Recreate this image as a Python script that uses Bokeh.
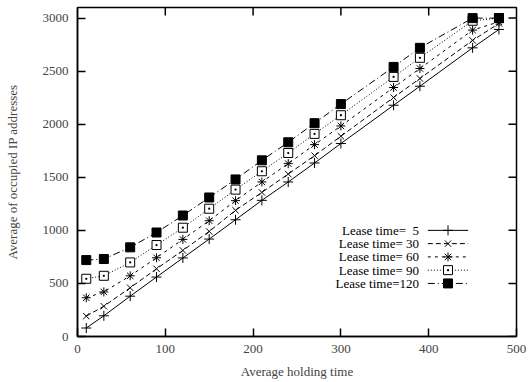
import math
from bokeh.plotting import figure
from bokeh.models import FixedTicker, Label
from bokeh.embed import file_html
from bokeh.resources import INLINE

# Average holding time (x) and average occupied IP addresses per lease time
holding_time = [10, 30, 60, 90, 120, 150, 180, 210, 240, 270, 300, 360, 390, 450, 480]
lease_5 = [80, 195, 380, 560, 740, 918, 1100, 1283, 1456, 1635, 1818, 2179, 2358, 2720, 2893]
lease_30 = [192, 285, 459, 638, 811, 990, 1189, 1358, 1531, 1704, 1887, 2252, 2431, 2790, 2950]
lease_60 = [365, 420, 572, 742, 915, 1091, 1280, 1456, 1629, 1808, 1984, 2346, 2525, 2887, 2965]
lease_90 = [544, 572, 698, 862, 1025, 1204, 1384, 1557, 1729, 1909, 2085, 2446, 2626, 2975, 3000]
lease_120 = [720, 730, 840, 980, 1140, 1310, 1480, 1660, 1830, 2010, 2190, 2540, 2720, 3000, 3000]

NBSP = "\u00a0"
series_labels = ["Lease time=" + NBSP * 2 + "5", "Lease time=" + NBSP + "30",
                 "Lease time=" + NBSP + "60", "Lease time=" + NBSP + "90", "Lease time=120"]
x_ticks = [0, 100, 200, 300, 400, 500]
y_ticks = [0, 500, 1000, 1500, 2000, 2500, 3000]
X_MAX = 500
Y_MAX = 3100

FONT = "Liberation Serif"
FS = "13px"

p = figure(width=528, height=382, x_range=(0, X_MAX), y_range=(0, Y_MAX),
           output_backend="svg", toolbar_location=None,
           min_border_left=77, min_border_right=12, min_border_top=7, min_border_bottom=46,
           x_axis_label="Average holding time", y_axis_label="Average of occupied IP addresses")
p.grid.visible = False
p.outline_line_color = "black"
p.outline_line_width = 1.5
p.background_fill_color = "white"
p.border_fill_color = "white"

for ax, ticks in ((p.xaxis[0], x_ticks), (p.yaxis[0], y_ticks)):
    ax.ticker = FixedTicker(ticks=ticks)
    ax.major_tick_in = 8
    ax.major_tick_out = 0
    ax.major_tick_line_width = 1.5
    ax.minor_tick_line_color = None
    ax.axis_line_width = 1.5
    ax.major_label_text_font = FONT
    ax.major_label_text_font_size = FS
    ax.axis_label_text_font = FONT
    ax.axis_label_text_font_size = FS
    ax.axis_label_text_font_style = "normal"
p.xaxis[0].major_label_standoff = 8
p.xaxis[0].axis_label_standoff = 8
p.yaxis[0].major_label_standoff = 9
p.yaxis[0].axis_label_standoff = 20

# mirrored tick marks on the top and right borders (half of each dash is clipped by the frame)
p.scatter(x_ticks[1:-1], [Y_MAX] * (len(x_ticks) - 2), marker="dash", angle=math.pi / 2,
          size=16, line_color="black", line_width=1.5)
p.scatter([X_MAX] * len(y_ticks), y_ticks, marker="dash", size=16,
          line_color="black", line_width=1.5)

styles = [
    dict(data=lease_5, dash="solid", marker="cross", size=10, fill=None),
    dict(data=lease_30, dash="5 3", marker="x", size=9, fill=None),
    dict(data=lease_60, dash="3 4", marker="asterisk", size=9, fill=None),
    dict(data=lease_90, dash="1 2", marker="square_dot", size=9, fill="white"),
    dict(data=lease_120, dash="7 3 1 3", marker="square", size=9, fill="black"),
]

# legend layout (data units): text right edge, sample line span, row positions
leg_text_x = 389
leg_line_x = [399, 445]
leg_mark_x = 422
leg_rows = [1000, 875, 750, 625, 500]

for s, label, row in zip(styles, series_labels, leg_rows):
    p.line(holding_time, s["data"], line_color="black", line_width=1, line_dash=s["dash"])
    p.scatter(holding_time, s["data"], marker=s["marker"], size=s["size"],
              line_color="black", line_width=1, fill_color=s["fill"])
    p.line(leg_line_x, [row, row], line_color="black", line_width=1, line_dash=s["dash"])
    p.scatter([leg_mark_x], [row], marker=s["marker"], size=s["size"],
              line_color="black", line_width=1, fill_color=s["fill"])
    p.add_layout(Label(x=leg_text_x, y=row, text=label, text_align="right",
                       text_baseline="middle", text_font=FONT, text_font_size=FS,
                       text_color="black"))

open("out.html", "w").write(file_html(p, INLINE))
